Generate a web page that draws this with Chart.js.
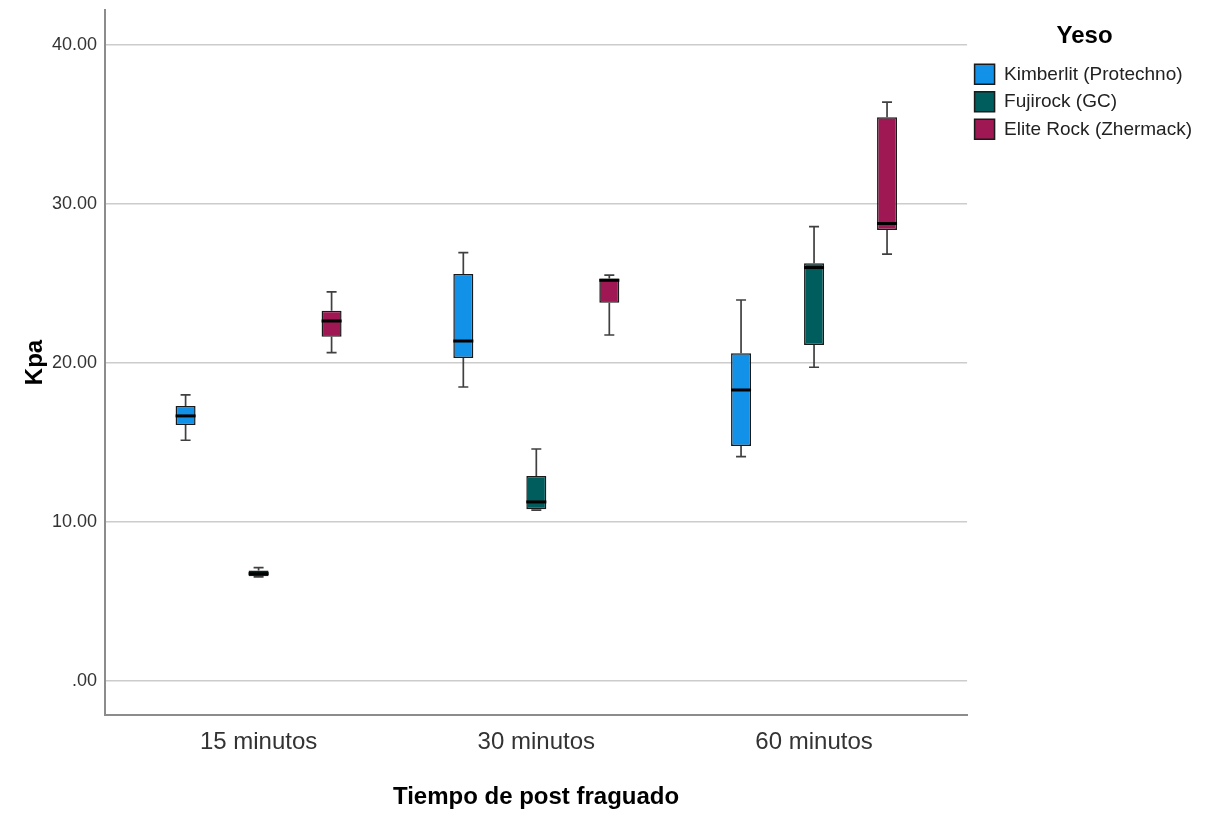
<!DOCTYPE html>
<html>
<head>
<meta charset="utf-8">
<script src="https://cdn.jsdelivr.net/npm/chart.js@4.4.0/dist/chart.umd.min.js"></script>
<style>
  html, body { margin: 0; padding: 0; background: #fff; }
  #wrap { width: 1207px; height: 814px; }
</style>
</head>
<body>
<div id="wrap"><canvas id="chart"></canvas></div>
<script>
var categories = ["15 minutos", "30 minutos", "60 minutos"];
var seriesNames = ["Kimberlit (Protechno)", "Fujirock (GC)", "Elite Rock (Zhermack)"];
var seriesColors = ["#1192e8", "#005d5d", "#9f1853"];
var yTicks = [0, 10, 20, 30, 40];

// box plot statistics, one value per category
var kimberlitMin = [15.14, 18.49, 14.11];
var kimberlitQ1 = [16.10, 20.31, 14.78];
var kimberlitMedian = [16.67, 21.38, 18.30];
var kimberlitQ3 = [17.30, 25.60, 20.61];
var kimberlitMax = [17.99, 26.94, 23.96];

var fujirockMin = [6.55, 10.75, 19.73];
var fujirockQ1 = [6.58, 10.80, 21.13];
var fujirockMedian = [6.75, 11.26, 26.00];
var fujirockQ3 = [6.95, 12.89, 26.27];
var fujirockMax = [7.13, 14.59, 28.57];

var eliteMin = [20.65, 21.76, 26.84];
var eliteQ1 = [21.65, 23.79, 28.36];
var eliteMedian = [22.64, 25.20, 28.77];
var eliteQ3 = [23.29, 25.32, 35.45];
var eliteMax = [24.47, 25.53, 36.40];

var stats = [
  { min: kimberlitMin, q1: kimberlitQ1, med: kimberlitMedian, q3: kimberlitQ3, max: kimberlitMax },
  { min: fujirockMin, q1: fujirockQ1, med: fujirockMedian, q3: fujirockQ3, max: fujirockMax },
  { min: eliteMin, q1: eliteQ1, med: eliteMedian, q3: eliteQ3, max: eliteMax }
];

var font = "'Liberation Sans', Arial, sans-serif";

var datasets = stats.map(function (s, i) {
  return {
    label: seriesNames[i],
    data: categories.map(function (c, j) { return { x: j, y: [s.q1[j], s.q3[j]] }; }),
    backgroundColor: seriesColors[i],
    borderColor: "#1a1a1a",
    borderWidth: 1.5,
    borderSkipped: false,
    barPercentage: 0.274,
    categoryPercentage: 0.7885,
    stats: s
  };
});

// whiskers behind the boxes, medians on top
var boxPlotLines = {
  id: "boxPlotLines",
  beforeDatasetsDraw: function (chart) {
    var ctx = chart.ctx;
    var y = chart.scales.y;
    ctx.save();
    ctx.strokeStyle = "#404040";
    ctx.lineWidth = 1.7;
    chart.data.datasets.forEach(function (ds, i) {
      var meta = chart.getDatasetMeta(i);
      meta.data.forEach(function (bar, j) {
        var p = bar.getProps(["x"], true);
        var s = ds.stats;
        var pairs = [[s.q3[j], s.max[j]], [s.q1[j], s.min[j]]];
        pairs.forEach(function (pr) {
          var y0 = y.getPixelForValue(pr[0]);
          var y1 = y.getPixelForValue(pr[1]);
          ctx.beginPath();
          ctx.moveTo(p.x, y0);
          ctx.lineTo(p.x, y1);
          ctx.moveTo(p.x - 5, y1);
          ctx.lineTo(p.x + 5, y1);
          ctx.stroke();
        });
      });
    });
    ctx.restore();
  },
  afterDatasetsDraw: function (chart) {
    var ctx = chart.ctx;
    var y = chart.scales.y;
    ctx.save();
    ctx.strokeStyle = "#000";
    ctx.lineWidth = 3;
    chart.data.datasets.forEach(function (ds, i) {
      var meta = chart.getDatasetMeta(i);
      meta.data.forEach(function (bar, j) {
        var p = bar.getProps(["x", "width"], true);
        var ym = y.getPixelForValue(ds.stats.med[j]);
        ctx.beginPath();
        ctx.moveTo(p.x - p.width / 2, ym);
        ctx.lineTo(p.x + p.width / 2, ym);
        ctx.stroke();
      });
    });
    ctx.restore();
  }
};

new Chart(document.getElementById("chart").getContext("2d"), {
  type: "bar",
  data: { datasets: datasets },
  plugins: [boxPlotLines],
  options: {
    responsive: true,
    maintainAspectRatio: false,
    animation: false,
    layout: { padding: { top: 0, right: 5, bottom: 0, left: 0 } },
    plugins: {
      tooltip: { enabled: false },
      legend: {
        position: "right",
        align: "start",
        title: {
          display: true,
          text: "Yeso",
          color: "#000",
          font: { family: font, size: 24, weight: "bold" },
          padding: { top: 24, bottom: 4 }
        },
        labels: {
          color: "#222",
          font: { family: font, size: 19 },
          boxWidth: 20,
          boxHeight: 20,
          padding: 7.5
        }
      }
    },
    scales: {
      x: {
        type: "linear",
        offset: false,
        min: -0.553,
        max: 2.551,
        grid: { display: false, drawTicks: false },
        border: { display: true, color: "#8c8c8c", width: 2 },
        ticks: {
          stepSize: 1,
          includeBounds: false,
          padding: 13,
          color: "#333",
          font: { family: font, size: 24 },
          callback: function (v) { return categories[v] || ""; }
        },
        title: {
          display: true,
          text: "Tiempo de post fraguado",
          color: "#000",
          font: { family: font, size: 24, weight: "bold", lineHeight: 1 },
          padding: { top: 0, bottom: 5 }
        },
        afterFit: function (s) { s.height = 99; }
      },
      y: {
        min: -2.14,
        max: 42.2,
        grid: { color: "#cccccc", lineWidth: 1.5, drawTicks: false },
        border: { display: true, color: "#8c8c8c", width: 2 },
        afterBuildTicks: function (s) {
          s.ticks = yTicks.map(function (v) { return { value: v }; });
        },
        ticks: {
          padding: 8,
          color: "#333",
          font: { family: font, size: 18, lineHeight: 0.22 },
          callback: function (v) { return v === 0 ? ".00" : v.toFixed(2); }
        },
        title: {
          display: true,
          text: "Kpa",
          color: "#000",
          font: { family: font, size: 24, weight: "bold", lineHeight: 1 },
          padding: { top: 23, bottom: 0 }
        },
        afterFit: function (s) { s.width = 105; }
      }
    }
  }
});
</script>
</body>
</html>
